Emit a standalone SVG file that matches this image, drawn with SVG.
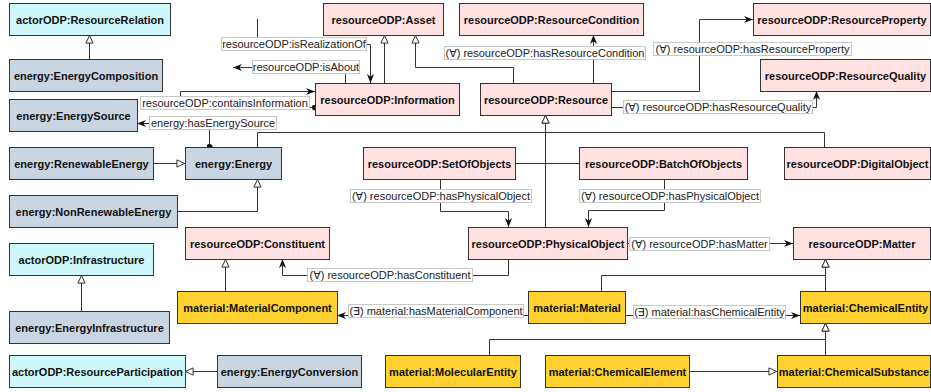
<svg xmlns="http://www.w3.org/2000/svg" width="931" height="392" viewBox="0 0 931 392">
<style>
.n rect{stroke:#333;stroke-width:1}
.n text{font-family:"Liberation Sans",Arial,sans-serif;font-size:11px;font-weight:bold;fill:#111;text-anchor:middle}
.actor rect{fill:#cdf7fb}
.energy rect{fill:#cad5e2}
.res rect{fill:#ffe1e1}
.mat rect{fill:#ffd22f}
.e path{fill:none;stroke:#333;stroke-width:1}
.l rect{fill:#fff;stroke:#c8c8c8;stroke-width:1}
.l text{font-family:"Liberation Sans",Arial,"DejaVu Sans",sans-serif;font-size:11px;fill:#222;text-anchor:middle}
</style>
<defs>
<marker id="arr" viewBox="0 0 10 10" refX="10" refY="5" markerWidth="9" markerHeight="9" markerUnits="userSpaceOnUse" orient="auto"><path d="M0,1 L10,5 L0,9 L3,5 z" fill="#111"/></marker>
<marker id="tri" viewBox="0 0 10 10" refX="10" refY="5" markerWidth="9" markerHeight="9" markerUnits="userSpaceOnUse" orient="auto"><path d="M1,1 L9.5,5 L1,9 z" fill="#fff" stroke="#333" stroke-width="1.1"/></marker>
<marker id="dot" viewBox="0 0 6 6" refX="3" refY="3" markerWidth="6" markerHeight="6" markerUnits="userSpaceOnUse"><circle cx="3" cy="3" r="3" fill="#111"/></marker>
</defs>
<rect width="931" height="392" fill="#fff"/>
<g id="connectors" class="e">
<path d="M89.5,59 V35" marker-end="url(#tri)"/>
<path d="M257.5,147 V132.5 H545.5 V115" marker-end="url(#tri)"/>
<path d="M824.5,147 V132.5 H545.5"/>
<path d="M545.5,227 V115" marker-end="url(#tri)"/>
<path d="M515,163.5 H545.5"/>
<path d="M579,163.5 H545.5"/>
<path d="M153,163.5 H185" marker-end="url(#tri)"/>
<path d="M177,211.5 H257.5 V179" marker-end="url(#tri)"/>
<path d="M81.5,311 V275" marker-end="url(#tri)"/>
<path d="M217,371.5 H185" marker-end="url(#tri)"/>
<path d="M384.5,83 V35" marker-end="url(#tri)"/>
<path d="M513.5,83 V67.5 H415.5 V35" marker-end="url(#tri)"/>
<path d="M225.5,291 V259" marker-end="url(#tri)"/>
<path d="M601.5,291 V275.5 H825.5 V259" marker-end="url(#tri)"/>
<path d="M825.5,291 V259" marker-end="url(#tri)"/>
<path d="M489.5,355 V339.5 H825.5 V323" marker-end="url(#tri)"/>
<path d="M825.5,355 V323" marker-end="url(#tri)"/>
<path d="M689,371.5 H777" marker-end="url(#tri)"/>
<path d="M315,107.5 H180.5 V91.5 H315" marker-start="url(#dot)" marker-end="url(#arr)"/>
<path d="M209.5,147 V123.5 H137" marker-start="url(#dot)" marker-end="url(#arr)"/>
<path d="M257.5,19 V44.5 H370.5 V83" marker-end="url(#arr)"/>
<path d="M345.5,83 V67.5 H233" marker-end="url(#arr)"/>
<path d="M593.5,83 V35" marker-end="url(#arr)"/>
<path d="M611,91.5 H699.5 V19.5 H753" marker-end="url(#arr)"/>
<path d="M611,107.5 H816.5 V91" marker-end="url(#arr)"/>
<path d="M440.5,179 V211.5 H508.5 V227" marker-end="url(#arr)"/>
<path d="M664.5,179 V210.5 H588.5 V227" marker-end="url(#arr)"/>
<path d="M627,243.5 H793" marker-end="url(#arr)"/>
<path d="M508.5,259 V275.5 H282.5 V259" marker-end="url(#arr)"/>
<path d="M528,315.5 H337" marker-end="url(#arr)"/>
<path d="M625,315.5 H800" marker-end="url(#arr)"/>
</g>
<g id="labels" class="l">
<rect x="221.5" y="37.5" width="145" height="13"/><text x="294" y="48">resourceODP:isRealizationOf</text>
<rect x="252.5" y="60.5" width="107" height="13"/><text x="306" y="71">resourceODP:isAbout</text>
<rect x="140.5" y="96.5" width="169" height="13"/><text x="225" y="107">resourceODP:containsInformation</text>
<rect x="149.5" y="116.5" width="127" height="13"/><text x="213" y="127">energy:hasEnergySource</text>
<rect x="444.5" y="46.5" width="201" height="13"/><text x="545" y="57">(∀) resourceODP:hasResourceCondition</text>
<rect x="653.5" y="42.5" width="198" height="13"/><text x="752.5" y="53">(∀) resourceODP:hasResourceProperty</text>
<rect x="623.5" y="100.5" width="189" height="13"/><text x="718" y="111">(∀) resourceODP:hasResourceQuality</text>
<rect x="350.5" y="189.5" width="181" height="13"/><text x="441" y="200">(∀) resourceODP:hasPhysicalObject</text>
<rect x="579.5" y="189.5" width="181" height="13"/><text x="670" y="200">(∀) resourceODP:hasPhysicalObject</text>
<rect x="629.5" y="237.5" width="140" height="13"/><text x="699.5" y="248">(∀) resourceODP:hasMatter</text>
<rect x="307.5" y="268.5" width="165" height="13"/><text x="390" y="279">(∀) resourceODP:hasConstituent</text>
<rect x="348.5" y="304.5" width="175" height="13"/><text x="436" y="315">(∃) material:hasMaterialComponent</text>
<rect x="633.5" y="305.5" width="152" height="13"/><text x="709.5" y="316">(∃) material:hasChemicalEntity</text>
</g>
<g id="actor_ResourceRelation" class="n actor"><rect x="9.5" y="3.5" width="161" height="32"/><text x="90" y="23.5">actorODP:ResourceRelation</text></g>
<g id="actor_Infrastructure" class="n actor"><rect x="9.5" y="243.5" width="144" height="32"/><text x="81.5" y="263.5">actorODP:Infrastructure</text></g>
<g id="actor_ResourceParticipation" class="n actor"><rect x="9.5" y="355.5" width="176" height="32"/><text x="97.5" y="375.5">actorODP:ResourceParticipation</text></g>
<g id="energy_EnergyComposition" class="n energy"><rect x="9.5" y="59.5" width="153" height="32"/><text x="86" y="79.5">energy:EnergyComposition</text></g>
<g id="energy_EnergySource" class="n energy"><rect x="9.5" y="99.5" width="128" height="32"/><text x="73.5" y="119.5">energy:EnergySource</text></g>
<g id="energy_RenewableEnergy" class="n energy"><rect x="9.5" y="147.5" width="144" height="32"/><text x="81.5" y="167.5">energy:RenewableEnergy</text></g>
<g id="energy_Energy" class="n energy"><rect x="185.5" y="147.5" width="96" height="32"/><text x="233.5" y="167.5">energy:Energy</text></g>
<g id="energy_NonRenewableEnergy" class="n energy"><rect x="9.5" y="195.5" width="168" height="32"/><text x="93.5" y="215.5">energy:NonRenewableEnergy</text></g>
<g id="energy_EnergyInfrastructure" class="n energy"><rect x="9.5" y="311.5" width="160" height="32"/><text x="89.5" y="331.5">energy:EnergyInfrastructure</text></g>
<g id="energy_EnergyConversion" class="n energy"><rect x="217.5" y="355.5" width="144" height="32"/><text x="289.5" y="375.5">energy:EnergyConversion</text></g>
<g id="res_Asset" class="n res"><rect x="323.5" y="3.5" width="120" height="32"/><text x="383.5" y="23.5">resourceODP:Asset</text></g>
<g id="res_ResourceCondition" class="n res"><rect x="459.5" y="3.5" width="184" height="32"/><text x="551.5" y="23.5">resourceODP:ResourceCondition</text></g>
<g id="res_ResourceProperty" class="n res"><rect x="753.5" y="3.5" width="177" height="32"/><text x="842" y="23.5">resourceODP:ResourceProperty</text></g>
<g id="res_ResourceQuality" class="n res"><rect x="760.5" y="59.5" width="170" height="32"/><text x="845.5" y="79.5">resourceODP:ResourceQuality</text></g>
<g id="res_Information" class="n res"><rect x="315.5" y="83.5" width="144" height="32"/><text x="387.5" y="103.5">resourceODP:Information</text></g>
<g id="res_Resource" class="n res"><rect x="480.5" y="83.5" width="131" height="32"/><text x="546" y="103.5">resourceODP:Resource</text></g>
<g id="res_SetOfObjects" class="n res"><rect x="363.5" y="147.5" width="152" height="32"/><text x="439.5" y="167.5">resourceODP:SetOfObjects</text></g>
<g id="res_BatchOfObjects" class="n res"><rect x="579.5" y="147.5" width="168" height="32"/><text x="663.5" y="167.5">resourceODP:BatchOfObjects</text></g>
<g id="res_DigitalObject" class="n res"><rect x="784.5" y="147.5" width="146" height="32"/><text x="857.5" y="167.5">resourceODP:DigitalObject</text></g>
<g id="res_Constituent" class="n res"><rect x="185.5" y="227.5" width="144" height="32"/><text x="257.5" y="247.5">resourceODP:Constituent</text></g>
<g id="res_PhysicalObject" class="n res"><rect x="468.5" y="227.5" width="159" height="32"/><text x="548" y="247.5">resourceODP:PhysicalObject</text></g>
<g id="res_Matter" class="n res"><rect x="793.5" y="227.5" width="137" height="32"/><text x="862" y="247.5">resourceODP:Matter</text></g>
<g id="mat_MaterialComponent" class="n mat"><rect x="177.5" y="291.5" width="160" height="32"/><text x="257.5" y="311.5">material:MaterialComponent</text></g>
<g id="mat_Material" class="n mat"><rect x="528.5" y="291.5" width="97" height="32"/><text x="577" y="311.5">material:Material</text></g>
<g id="mat_ChemicalEntity" class="n mat"><rect x="800.5" y="291.5" width="130" height="32"/><text x="865.5" y="311.5">material:ChemicalEntity</text></g>
<g id="mat_MolecularEntity" class="n mat"><rect x="385.5" y="355.5" width="135" height="32"/><text x="453" y="375.5">material:MolecularEntity</text></g>
<g id="mat_ChemicalElement" class="n mat"><rect x="545.5" y="355.5" width="144" height="32"/><text x="617.5" y="375.5">material:ChemicalElement</text></g>
<g id="mat_ChemicalSubstance" class="n mat"><rect x="777.5" y="355.5" width="153" height="32"/><text x="854" y="375.5">material:ChemicalSubstance</text></g>
</svg>
